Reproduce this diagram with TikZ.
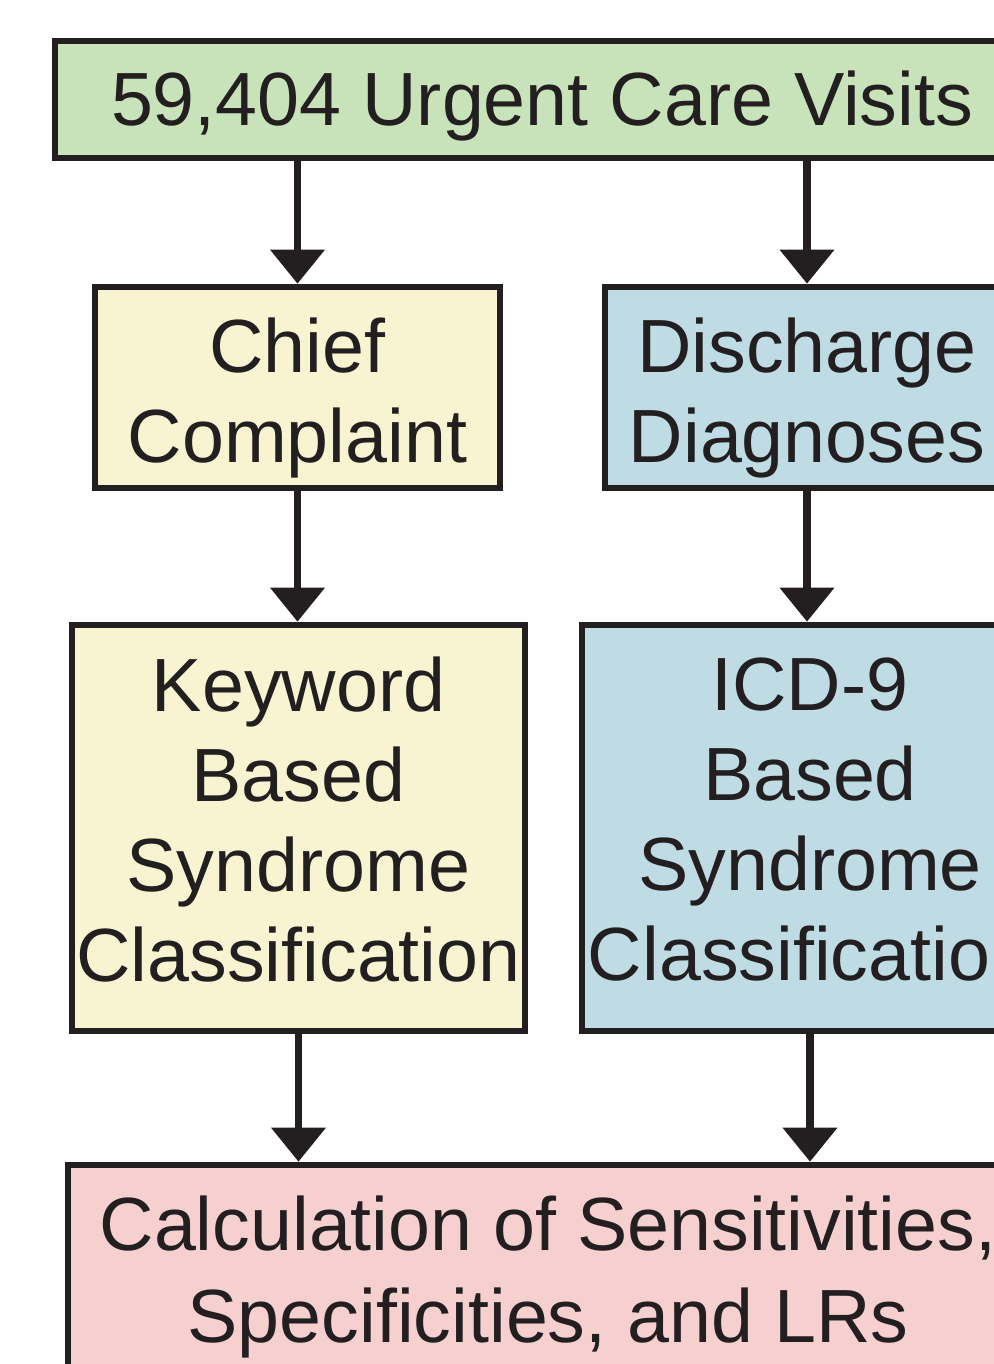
\documentclass[tikz,border=0pt]{standalone}
\usepackage{fontspec}
\setmainfont{Liberation Sans}
\usetikzlibrary{arrows.meta}
\definecolor{ink}{HTML}{231F20}
\definecolor{visitsGreen}{HTML}{C8E3BA}
\definecolor{ccYellow}{HTML}{F8F4D2}
\definecolor{dxBlue}{HTML}{BFDCE5}
\definecolor{statsPink}{HTML}{F6D0CF}

% struts to set where the text sits inside a box
\newcommand{\capstrut}{\rule{0pt}{35pt}}
\newcommand{\descstrut}{\rule[-8.5pt]{0pt}{8.5pt}}
\newcommand{\dropstrut}{\rule{0pt}{37.5pt}}

\begin{document}
\begin{tikzpicture}[
  x=0.5pt, y=-0.5pt,
  box/.style={draw=ink, line width=3.3pt, align=center, inner sep=0pt,
    font=\fontsize{37.7}{45}\selectfont, text=ink},
  struts/.style={execute at begin node=\capstrut, execute at end node=\descstrut},
  arr/.style={-{Triangle[width=26.5pt, length=17pt]}, draw=ink, fill=ink, line width=3.7pt}
]
  \useasboundingbox (0,0) rectangle (994,1364);
  \clip (0,0) rectangle (994,1364);

  \node[box, struts, fill=visitsGreen, minimum width=487pt, minimum height=58.5pt] (visits) at (542,99.5) {59,404 Urgent Care Visits};
  \node[box, fill=ccYellow, minimum width=202.5pt, minimum height=100.5pt] (chief) at (297.5,387.5) {\dropstrut Chief\\Complaint};
  \node[box, fill=dxBlue, minimum width=202pt, minimum height=100.5pt] (discharge) at (807,387.5) {\dropstrut Discharge\\Diagnoses};
  \node[box, struts, fill=ccYellow, minimum width=226.5pt, minimum height=203pt] (keyword) at (298.5,828) {Keyword\\Based\\Syndrome\\Classification};
  \node[box, struts, fill=dxBlue, minimum width=228pt, minimum height=203pt] (icd) at (810,828) {ICD-9\\Based\\Syndrome\\Classification};
  \node[box, font=\fontsize{37.7}{46}\selectfont, fill=statsPink, minimum width=480pt, minimum height=101.5pt] (calc) at (548,1266.5) {\dropstrut Calculation of Sensitivities,\\Specificities, and LRs};

  \draw[arr] (visits.south -| chief.north) -- (chief.north);
  \draw[arr] (visits.south -| discharge.north) -- (discharge.north);
  \draw[arr] (chief.south) -- (chief.south |- keyword.north);
  \draw[arr] (discharge.south) -- (discharge.south |- icd.north);
  \draw[arr] (keyword.south) -- (keyword.south |- calc.north);
  \draw[arr] (icd.south) -- (icd.south |- calc.north);
\end{tikzpicture}
\end{document}
